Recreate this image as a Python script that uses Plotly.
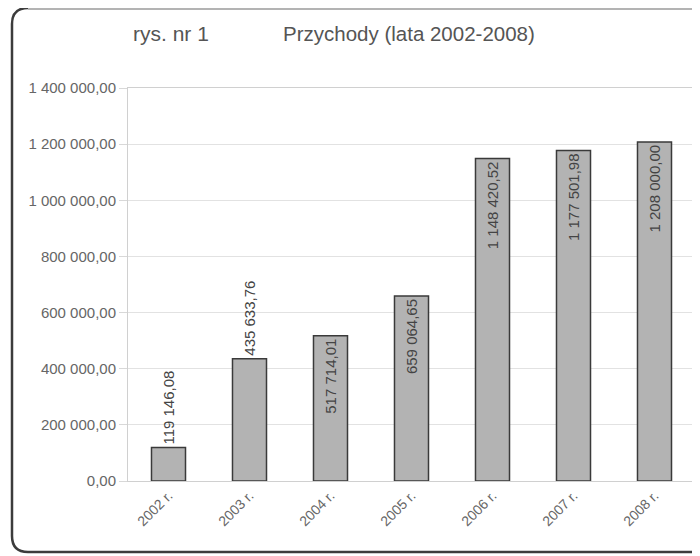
import plotly.graph_objects as go

categories = ["2002 r.", "2003 r.", "2004 r.", "2005 r.", "2006 r.", "2007 r.", "2008 r."]
values = [119146.08, 435633.76, 517714.01, 659064.65, 1148420.52, 1177501.98, 1208000.00]
labels = ["119 146,08", "435 633,76", "517 714,01", "659 064,65", "1 148 420,52", "1 177 501,98", "1 208 000,00"]
label_pos = ["outside", "outside", "inside", "inside", "inside", "inside", "inside"]
y_ticks = [0, 200000, 400000, 600000, 800000, 1000000, 1200000, 1400000]

W, H = 700, 556
L, T = 120, 80
pw, ph = 567, 393
R, B = W - L - pw, H - T - ph

FONT = "Liberation Sans, Arial"

fig = go.Figure()
fig.add_trace(go.Bar(
    x=categories, y=values,
    text=labels, textposition=label_pos, textangle=-90,
    insidetextanchor="end", constraintext="none", cliponaxis=False,
    textfont=dict(family=FONT, size=15, color="#444444"),
    marker=dict(color="#b3b3b3", line=dict(color="#3a3a3a", width=1.5)),
    width=0.42,
))

def px(xp):
    return (xp - L) / pw

def py(yp):
    return (H - B - yp) / ph

x0, x1, y0, y1 = 4, 712, 0, 544
rx, ry = 16 / pw, 16 / ph
frame = (
    f"M {px(x1)},{py(y1)} L {px(x0)+rx},{py(y1)} "
    f"Q {px(x0)},{py(y1)} {px(x0)},{py(y1)+ry} "
    f"L {px(x0)},{py(y0)-ry} Q {px(x0)},{py(y0)} {px(x0)+rx},{py(y0)}"
)
fig.add_shape(type="path", xref="paper", yref="paper", path=frame,
              line=dict(color="#3c3c3c", width=2.5), layer="below")
fig.add_shape(type="line", xref="paper", yref="paper",
              x0=px(x0) + rx, x1=px(x1), y0=py(y0 + 1), y1=py(y0 + 1),
              line=dict(color="#9a9a9a", width=1.5), layer="below")

fig.add_annotation(text="rys. nr 1", xref="paper", yref="paper",
                   x=px(163), y=py(25), xanchor="center", yanchor="middle",
                   showarrow=False,
                   font=dict(family=FONT, size=21, color="#555555"))
fig.add_annotation(text="Przychody (lata 2002-2008)", xref="paper", yref="paper",
                   x=px(401), y=py(25), xanchor="center", yanchor="middle",
                   showarrow=False,
                   font=dict(family=FONT, size=20.5, color="#555555"))

fig.update_layout(
    width=W, height=H,
    margin=dict(l=L, r=R, t=T, b=B, pad=0),
    paper_bgcolor="white", plot_bgcolor="white",
    separators=", ",
    showlegend=False,
    font=dict(family=FONT, size=12, color="#555555"),
)
fig.update_xaxes(
    type="category", tickangle=-45,
    showline=True, linecolor="#d0d0d0", linewidth=1, mirror=True,
    showgrid=False, ticks="", tickfont=dict(size=14, color="#666666"),
)
fig.update_yaxes(
    range=[0, 1400000], tickvals=y_ticks, tickformat=",.2f",
    showgrid=True, gridcolor="#e2e2e2", gridwidth=1,
    showline=True, linecolor="#d0d0d0", linewidth=1, mirror=True,
    ticks="outside", ticklen=8, tickcolor="#d8d8d8",
    tickfont=dict(size=15, color="#666666"), zeroline=False,
)

fig.write_html("out.html")
